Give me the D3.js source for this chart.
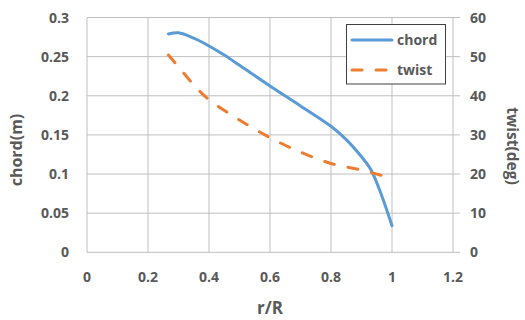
<!DOCTYPE html>
<html><head><meta charset="utf-8">
<script src="https://cdn.jsdelivr.net/npm/d3@7"></script>
<style>body{margin:0;background:#fff}svg{display:block}text{font-family:"Open Sans",sans-serif;font-weight:bold;fill:#595959}</style>
</head><body><svg id="c" width="525" height="320"></svg>
<script>
const chordR = [0.267, 0.3, 0.35, 0.4, 0.45, 0.5, 0.6, 0.7, 0.8, 0.85, 0.9, 0.93, 0.96, 1.0];
const chordV = [0.279, 0.2805, 0.2735, 0.2636, 0.252, 0.239, 0.2125, 0.187, 0.161, 0.144, 0.122, 0.106, 0.079, 0.034];
const twistR = [0.267, 0.3, 0.35, 0.4, 0.5, 0.6, 0.7, 0.8, 0.9, 1.0];
const twistV = [50.4, 47.4, 42.8, 39.0, 33.8, 29.3, 25.6, 22.7, 21.0, 18.9];
const xTicks = [0, 0.2, 0.4, 0.6, 0.8, 1, 1.2];
const yLeftTicks = [0, 0.05, 0.1, 0.15, 0.2, 0.25, 0.3];
const yRightTicks = [0, 10, 20, 30, 40, 50, 60];
const seriesNames = ["chord", "twist"];

const svg = d3.select("#c");
const L = 87, R = 453, T = 17.5, B = 252.3;
const x = d3.scaleLinear().domain([0, 1.2]).range([L, R]);
const yL = d3.scaleLinear().domain([0, 0.3]).range([B, T]);
const yR = d3.scaleLinear().domain([0, 60]).range([B, T]);
const grid = "#bfbfbf";

// gridlines
svg.append("g").selectAll("line").data(yLeftTicks).join("line")
  .attr("x1", L).attr("x2", R + 7).attr("y1", d => yL(d)).attr("y2", d => yL(d))
  .attr("stroke", grid).attr("stroke-width", 1);
svg.append("g").selectAll("line").data(xTicks).join("line")
  .attr("y1", T).attr("y2", B).attr("x1", d => x(d)).attr("x2", d => x(d))
  .attr("stroke", grid).attr("stroke-width", 1);

// tick labels
svg.append("g").selectAll("text").data(yLeftTicks).join("text")
  .attr("x", 69).attr("y", d => yL(d)).attr("dy", "0.36em").attr("text-anchor", "end")
  .style("font-size", "14px").text(d => d3.format("")(d));
svg.append("g").selectAll("text").data(yRightTicks).join("text")
  .attr("x", 470).attr("y", d => yR(d)).attr("dy", "0.36em").attr("text-anchor", "start")
  .style("font-size", "14px").text(d => d);
svg.append("g").selectAll("text").data(xTicks).join("text")
  .attr("x", d => x(d)).attr("y", 282).attr("text-anchor", "middle")
  .style("font-size", "14px").text(d => d3.format("")(d));

// axis titles
svg.append("text").attr("x", 270).attr("y", 314).attr("text-anchor", "middle")
  .style("font-size", "17px").text("r/R");
svg.append("text").attr("transform", "translate(22,150) rotate(-90)").attr("text-anchor", "middle")
  .style("font-size", "16px").text("chord(m)");
svg.append("text").attr("transform", "translate(507,146) rotate(90)").attr("text-anchor", "middle")
  .style("font-size", "15.5px").text("twist(deg)");

// series
const chordLine = d3.line().x((d, i) => x(chordR[i])).y(d => yL(d)).curve(d3.curveCatmullRom.alpha(0.5));
const twistLine = d3.line().x((d, i) => x(twistR[i])).y(d => yR(d)).curve(d3.curveCatmullRom.alpha(0.5));
svg.append("path").attr("d", chordLine(chordV)).attr("fill", "none")
  .attr("stroke", "#5B9BD5").attr("stroke-width", 3).attr("stroke-linecap", "round");
svg.append("path").attr("d", twistLine(twistV)).attr("fill", "none")
  .attr("stroke", "#ED7D31").attr("stroke-width", 3).attr("stroke-linecap", "round")
  .attr("stroke-dasharray", "10,14");

// legend
const lg = svg.append("g");
lg.append("rect").attr("x", 346.5).attr("y", 24.5).attr("width", 99).attr("height", 59.5)
  .attr("fill", "#fff").attr("stroke", "#404040").attr("stroke-width", 1);
const colors = ["#5B9BD5", "#ED7D31"];
seriesNames.forEach((n, i) => {
  const yy = 40 + i * 30;
  lg.append("line").attr("x1", 352).attr("x2", 392).attr("y1", yy).attr("y2", yy)
    .attr("stroke", colors[i]).attr("stroke-width", 3).attr("stroke-linecap", "round")
    .attr("stroke-dasharray", i ? "10,14" : null);
  lg.append("text").attr("x", 397).attr("y", yy).attr("dy", "0.36em")
    .style("font-size", "14px").text(n);
});
</script></body></html>
